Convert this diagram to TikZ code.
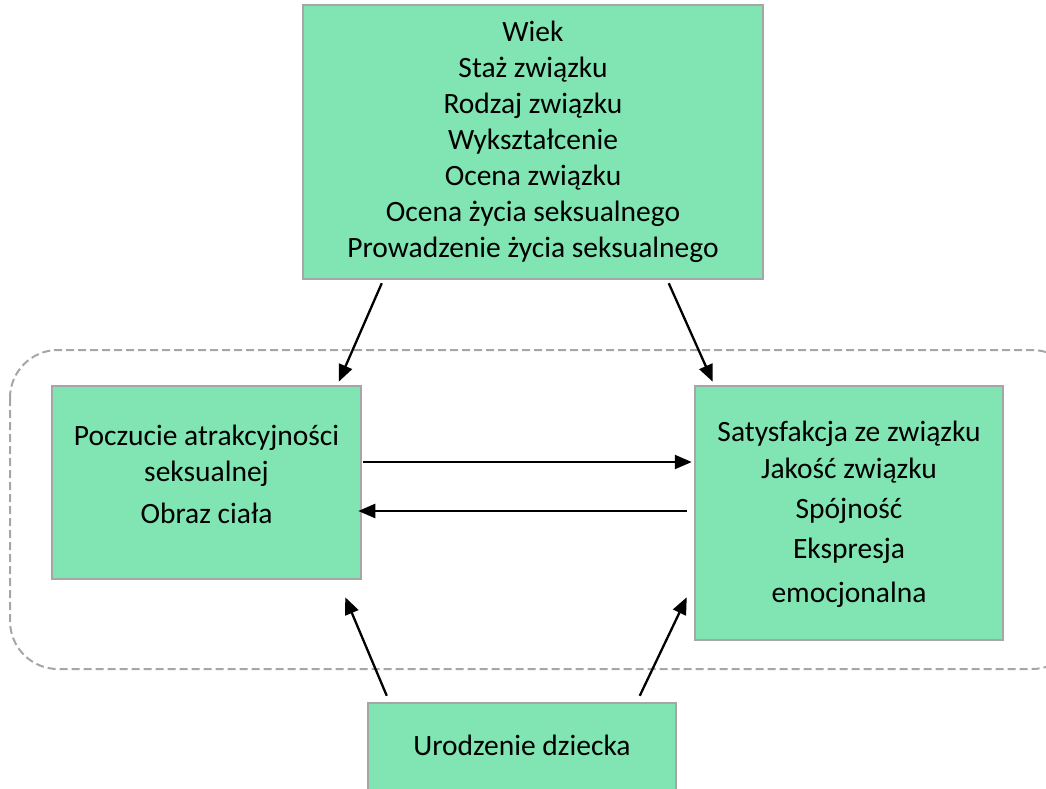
\documentclass[tikz,border=0pt]{standalone}
\usepackage{fontspec}
\setmainfont{Carlito}
\usetikzlibrary{arrows.meta}
\definecolor{boxfill}{HTML}{80E5B2}
\definecolor{boxline}{HTML}{A6A6A6}
\tikzset{
  box/.style={draw=boxline, line width=2.5pt, fill=boxfill, inner sep=0pt},
  txt/.style={align=center, font=\fontsize{29.5}{36}\selectfont, inner sep=0pt},
  arr/.style={line width=2.3pt, -{Triangle[length=17pt,width=14pt]}},
  group/.style={draw=boxline, line width=2pt, dash pattern=on 8pt off 4pt, rounded corners=48pt}
}
\begin{document}
\begin{tikzpicture}[x=1pt,y=-1pt]
\useasboundingbox (0,0) rectangle (1046,789);
\begin{scope}
\clip (0,0) rectangle (1046,789);
% dashed group
\draw[group] (10,350) rectangle (1080,669);
% boxes
\node[box, minimum width=460pt, minimum height=274pt] (top) at (533,142) {};
\node[box, minimum width=309pt, minimum height=193pt] (left) at (206.5,482.5) {};
\node[box, minimum width=308pt, minimum height=254pt] (right) at (849,513) {};
\node[box, minimum width=308pt, minimum height=100pt] (bottom) at (522,753) {};
\end{scope}
% texts
\node[txt] (toptxt) at (533,142) {Wiek\\Staż związku\\Rodzaj związku\\Wykształcenie\\Ocena związku\\Ocena życia seksualnego\\Prowadzenie życia seksualnego};
\node[txt] (lefttxt) at (206.5,474) {Poczucie atrakcyjności\\seksualnej\\[6pt]Obraz ciała};
\node[txt] (righttxt) at (849,514) {Satysfakcja ze związku\\[1pt]Jakość związku\\[4pt]Spójność\\[4pt]Ekspresja\\[8pt]emocjonalna};
\node[txt] (bottomtxt) at (522,745) {Urodzenie dziecka};
% arrows
\draw[arr] ([xshift=80pt,yshift=-3pt]top.south west) -- ([xshift=288pt,yshift=3pt]left.north west);
\draw[arr] ([xshift=367pt,yshift=-3pt]top.south west) -- ([xshift=19pt,yshift=3pt]right.north west);
\draw[arr] ([xshift=1pt]left.east |- 0,462) -- ([xshift=-2pt]right.west |- 0,462);
\draw[arr] ([xshift=-7pt]right.west |- 0,511) -- ([xshift=-4pt]left.east |- 0,511);
\draw[arr] ([xshift=20pt,yshift=6pt]bottom.north west) -- ([xshift=-17pt,yshift=-17pt]left.south east);
\draw[arr] ([xshift=273pt,yshift=6pt]bottom.north west) -- ([xshift=-7pt,yshift=44pt]right.south west);
\end{tikzpicture}
\end{document}
